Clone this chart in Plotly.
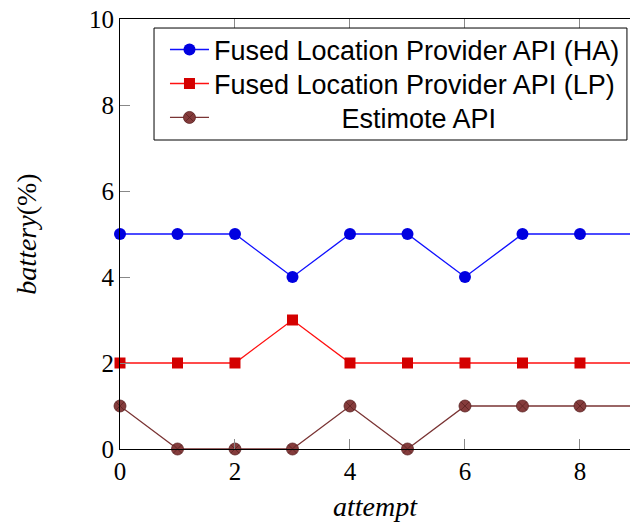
import plotly.graph_objects as go

attempts = [0, 1, 2, 3, 4, 5, 6, 7, 8, 9]
ha_values = [5, 5, 5, 4, 5, 5, 4, 5, 5, 5]
lp_values = [2, 2, 2, 3, 2, 2, 2, 2, 2, 2]
est_values = [1, 0, 0, 0, 1, 0, 1, 1, 1, 1]
x_ticks = [0, 2, 4, 6, 8]
y_ticks = [0, 2, 4, 6, 8, 10]

series_names = [
    "Fused Location Provider API (HA)",
    "Fused Location Provider API (LP)",
    "\u00a0" * 17 + "Estimote API",
]

fig = go.Figure()
fig.add_trace(go.Scatter(
    x=attempts, y=ha_values, name=series_names[0], mode="lines+markers",
    line=dict(color="#1010ff", width=1.3),
    marker=dict(symbol="circle", size=12, color="#0000e0", line=dict(width=0)),
    cliponaxis=False, legend="legend",
))
fig.add_trace(go.Scatter(
    x=attempts, y=lp_values, name=series_names[1], mode="lines+markers",
    line=dict(color="#ff1010", width=1.3),
    marker=dict(symbol="square", size=11, color="#d40000", line=dict(width=0)),
    cliponaxis=False, legend="legend2",
))
fig.add_trace(go.Scatter(
    x=attempts, y=est_values, name=series_names[2], mode="lines+markers",
    line=dict(color="#7a3434", width=1.3),
    marker=dict(symbol="circle-x", size=12, color="#853c3c",
                line=dict(width=0.8, color="#5a2222")),
    cliponaxis=False, legend="legend3",
))

legend_common = dict(
    x=0.0882, xanchor="left", yanchor="middle",
    font=dict(family="Liberation Sans", size=27, color="black"),
    borderwidth=0, bgcolor="rgba(0,0,0,0)", itemwidth=39,
)

axis_font = dict(family="Liberation Serif", size=25, color="black")
title_font = dict(family="Liberation Serif", size=28, color="black")

fig.update_layout(
    width=630, height=522,
    margin=dict(l=120, r=0, t=19, b=73),
    plot_bgcolor="white", paper_bgcolor="white",
    showlegend=True,
    legend=dict(y=0.928, **legend_common),
    legend2=dict(y=0.849, **legend_common),
    legend3=dict(y=0.770, **legend_common),
    shapes=[dict(type="rect", xref="paper", yref="paper",
                 x0=0.0667, x1=0.994, y0=0.7186, y1=0.979,
                 line=dict(color="black", width=1), fillcolor="white",
                 layer="above")],
    xaxis=dict(
        range=[0, 8.87], tickvals=x_ticks, ticks="inside", ticklen=10,
        tickcolor="#888", tickwidth=1, showline=True, linecolor="black",
        linewidth=1, mirror="ticks", showgrid=False, zeroline=False,
        tickfont=axis_font,
        title=dict(text="<i>attempt</i>", font=title_font, standoff=18),
    ),
    yaxis=dict(
        range=[0, 10], tickvals=y_ticks, ticks="inside", ticklen=10,
        tickcolor="#888", tickwidth=1, showline=True, linecolor="black",
        linewidth=1, mirror=False, showgrid=False, zeroline=False,
        tickfont=axis_font,
        title=dict(text="<i>battery</i>(%)", font=title_font, standoff=44),
    ),
)

fig.write_html("out.html")
